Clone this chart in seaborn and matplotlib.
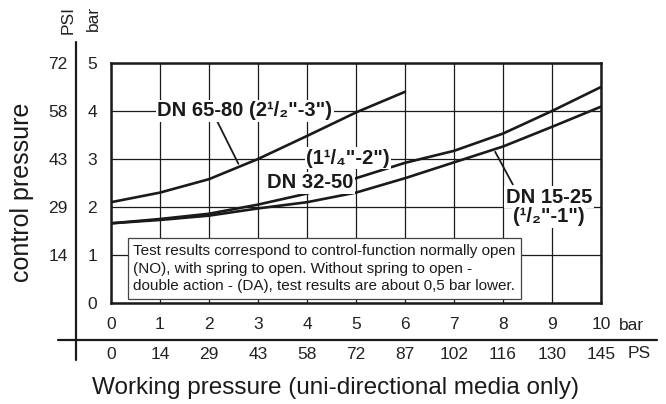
import numpy as np
import pandas as pd
import seaborn as sns
import matplotlib.pyplot as plt
from matplotlib.lines import Line2D

# ---- data (bar) ----
x_65 = [0, 1, 2, 3, 4, 5, 6]
y_65 = [2.1, 2.3, 2.58, 3.0, 3.48, 3.97, 4.4]

x_32 = [0, 1, 2, 3, 4, 5, 6, 7, 8, 9, 10]
y_32 = [1.66, 1.75, 1.86, 2.05, 2.28, 2.6, 2.92, 3.17, 3.53, 4.0, 4.5]

x_15 = [0, 1, 2, 3, 4, 5, 6, 7, 8, 9, 10]
y_15 = [1.66, 1.73, 1.82, 1.97, 2.1, 2.3, 2.6, 2.93, 3.26, 3.67, 4.09]

bar_ticks_y = [0, 1, 2, 3, 4, 5]
psi_ticks_y = [1, 2, 3, 4, 5]
psi_labels_y = ['14', '29', '43', '58', '72']
bar_ticks_x = list(range(11))
ps_labels_x = ['0', '14', '29', '43', '58', '72', '87', '102', '116', '130', '145']

note = ("Test results correspond to control-function normally open\n"
        "(NO), with spring to open. Without spring to open -\n"
        "double action - (DA), test results are about 0,5 bar lower.")

sns.set_style('white')
plt.rcParams['font.family'] = ['Liberation Sans', 'DejaVu Sans']

W, H = 666, 404
def fx(px):
    return px / W
def fy(py):
    return 1 - py / H

TICK = 12.5
INK = '#1a1a1a'

fig = plt.figure(figsize=(6.66, 4.04), dpi=100)
ax = fig.add_axes([fx(111), fy(303), 490 / W, 240 / H])

df = pd.concat([
    pd.DataFrame({'x': x_65, 'y': y_65, 'size': 'DN 65-80'}),
    pd.DataFrame({'x': x_32, 'y': y_32, 'size': 'DN 32-50'}),
    pd.DataFrame({'x': x_15, 'y': y_15, 'size': 'DN 15-25'}),
])
sns.lineplot(data=df, x='x', y='y', hue='size', palette=[INK] * 3,
             linewidth=1.9, legend=False, ax=ax, zorder=3)

ax.set_xlim(0, 10)
ax.set_ylim(0, 5)
ax.set_xlabel('')
ax.set_ylabel('')
ax.set_xticks(bar_ticks_x)
ax.set_yticks(bar_ticks_y)
ax.tick_params(length=0, labelsize=TICK, colors='#222222')
ax.tick_params(axis='y', pad=10)
ax.tick_params(axis='x', pad=10)
ax.grid(True, color=INK, linewidth=0.9)
ax.set_axisbelow(True)
for s in ax.spines.values():
    s.set_visible(True)
    s.set_color(INK)
    s.set_linewidth(1.8)

# PSI scale (left) and PS scale (bottom)
sy = ax.secondary_yaxis(-35 / 490)
sy.set_yticks(psi_ticks_y)
sy.set_yticklabels(psi_labels_y)
sy.tick_params(length=0, labelsize=TICK, colors='#222222', pad=6)
sy.spines['left'].set_visible(False)

sx = ax.secondary_xaxis(-37 / 240)
sx.set_xticks(bar_ticks_x)
sx.set_xticklabels(ps_labels_x)
sx.tick_params(length=0, labelsize=TICK, colors='#222222', pad=5)
sx.spines['bottom'].set_visible(False)

fig.add_artist(Line2D([fx(76), fx(76)], [fy(42), fy(360)], color=INK, lw=1.6))
fig.add_artist(Line2D([fx(58), fx(657)], [fy(340), fy(340)], color=INK, lw=1.6))

# curve labels
lab = dict(ha='center', va='center', fontsize=14.5, fontweight='bold', color=INK,
           bbox=dict(fc='white', ec='none', pad=1), zorder=4)
ax.text(2.73, 4.0, 'DN 65-80 (2\u00b9/\u2082"-3")', **lab)
ax.text(4.84, 3.02, '(1\u00b9/\u2084"-2")', **lab)
ax.text(4.06, 2.5, 'DN 32-50', **lab)
ax.text(8.94, 2.2, 'DN 15-25', **lab)
ax.text(8.94, 1.8, '(\u00b9/\u2082"-1")', **lab)
lead = dict(arrowstyle='-', color=INK, lw=1.3, shrinkA=0, shrinkB=0)
ax.annotate('', xy=(2.6, 2.9), xytext=(2.17, 3.78), arrowprops=lead)
ax.annotate('', xy=(7.84, 3.15), xytext=(8.2, 2.47), arrowprops=lead)

# note box
ax.text(0.45, 0.2, note, ha='left', va='bottom', fontsize=11, color=INK,
        linespacing=1.35, zorder=5,
        bbox=dict(boxstyle='square,pad=0.35', fc='white', ec='#444444', lw=0.9))

# axis titles and units
fig.text(fx(22), fy(192), 'control pressure', rotation=90, ha='center', va='center',
         fontsize=18, color=INK)
fig.text(fx(335), fy(388), 'Working pressure (uni-directional media only)',
         ha='center', va='center', fontsize=17.5, color=INK)
fig.text(fx(68), fy(20), 'PSI', rotation=90, ha='center', va='center',
         fontsize=TICK, color='#222222')
fig.text(fx(93), fy(18), 'bar', rotation=90, ha='center', va='center',
         fontsize=TICK, color='#222222')
fig.text(fx(631), fy(326), 'bar', ha='center', va='center', fontsize=TICK, color='#222222')
fig.text(fx(639), fy(354), 'PS', ha='center', va='center', fontsize=TICK, color='#222222')

fig.savefig('out.png', dpi=100)
